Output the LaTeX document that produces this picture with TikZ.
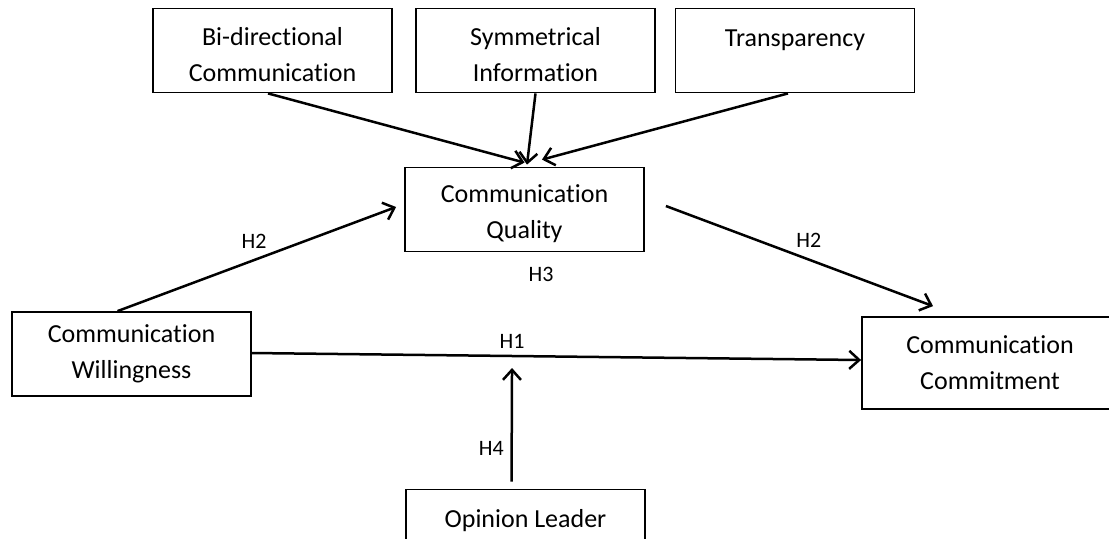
\documentclass[tikz,border=0pt]{standalone}
\usepackage{fontspec}
\setmainfont{Carlito}[Ligatures = NoCommon]
\usetikzlibrary{arrows.meta}

% taller first line, so that the text sits lower in its box
\newcommand{\firstline}{\rule{0pt}{13.5pt}}

\begin{document}
\begin{tikzpicture}[
    x = 0.5pt, y = -0.5pt,
    factor/.style = {draw,
      line width = 0.9pt,
      align = center,
      font = \fontsize{13}{18}\selectfont,
      minimum width = {119.5pt},
      minimum height = {42pt}},
    low/.style = {inner ysep = 0pt},
    wide/.style = {minimum width = {128pt},
      minimum height = {46pt}},
    link/.style = {line width = 1.25pt,
      -{Straight Barb[length = 5pt, width = 9pt]}},
    hyp/.style = {font = \fontsize{11}{13}\selectfont},
    ]

    \clip (0, 0) rectangle (1109, 538);

    \node at (272.5, 50.5)
    [factor, low, name = bidir] {\firstline Bi-directional\\Communication};
    \node at (535.5, 50.5)
    [factor, low, name = symm] {\firstline Symmetrical\\Information};
    \node at (795, 50.5)
    [factor, low, name = transp] {\firstline Transparency\\~};

    \node at (524.5, 209.5)
    [factor, low, name = quality] {\firstline Communication\\Quality};

    \node at (131.5, 354)
    [factor, name = willing] {Communication\\Willingness};
    \node at (990, 363)
    [factor, wide, name = commit] {Communication\\Commitment};

    \node at (525.5, 531.5)
    [factor, low, name = opinion] {\firstline Opinion Leader\\~};

    \node at (541, 274) [hyp, name = h3] {H3};

    \draw [link] ([xshift = -2.25pt] bidir.south) to
    ([yshift = 2pt] quality.north);
    \draw [link] (symm.south) to
    ([xshift = 1.25pt, yshift = 1pt] quality.north);
    \draw [link] ([xshift = -3.5pt] transp.south) to
    ([xshift = 8.75pt, yshift = 3.5pt] quality.north);

    \draw [link] ([xshift = -7pt] willing.north) to node
    [hyp, above, pos = 0.49, yshift = 2pt, name = h2a] {H2}
    ([xshift = -4pt, yshift = 1.25pt] quality.west);
    \draw [link] ([xshift = 10.5pt, yshift = 1.75pt] quality.east) to node
    [hyp, above, pos = 0.535, yshift = 2pt, name = h2b] {H2}
    ([xshift = -28.5pt, yshift = 5pt] commit.north);

    \draw [link] ([yshift = 0.5pt] willing.east) to
    node [hyp, above, pos = 0.427, name = h1] {H1}
    coordinate [pos = 0.427] (moder)
    ([yshift = 1.5pt] commit.west);

    \draw [link, shorten <= 3.5pt] ([xshift = -7pt] opinion.north) to node
    [hyp, left, pos = 0.33, name = h4] {H4}
    ([yshift = -6pt] moder);
  \end{tikzpicture}
\end{document}
